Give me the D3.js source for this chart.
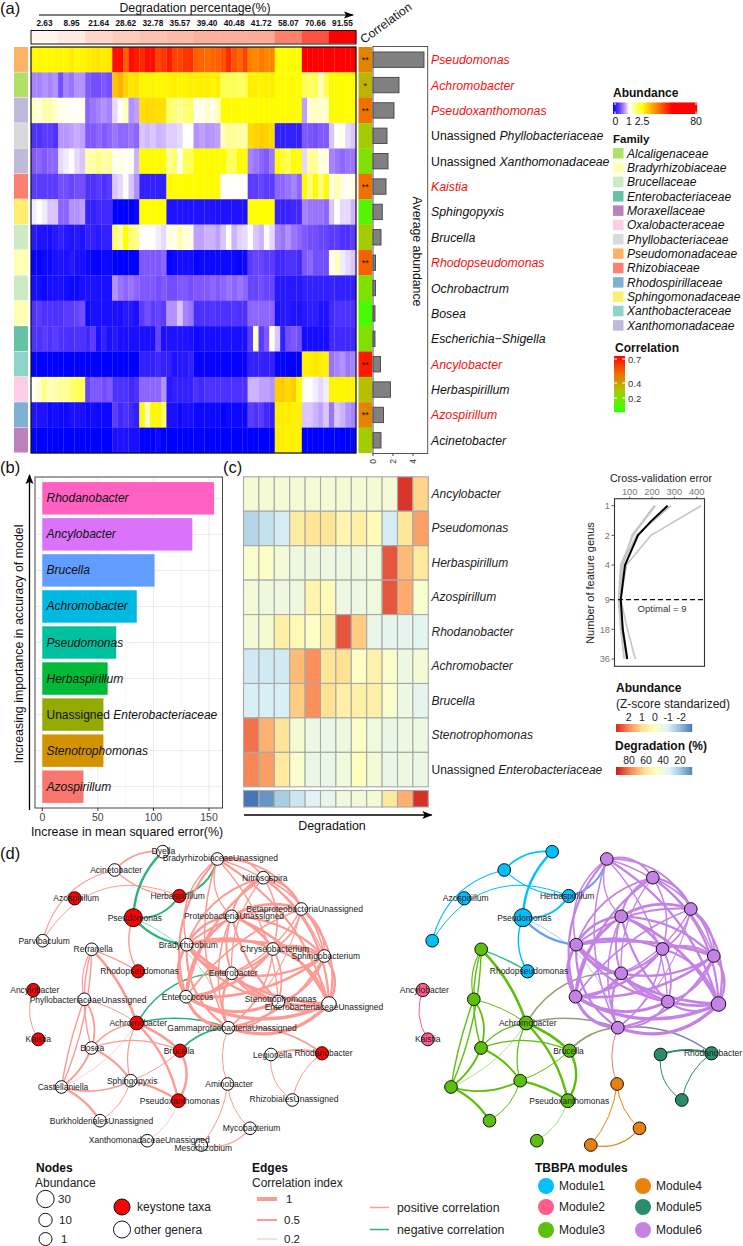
<!DOCTYPE html>
<html><head><meta charset="utf-8">
<script src="https://cdnjs.cloudflare.com/ajax/libs/d3/7.8.5/d3.min.js"></script>
<style>html,body{margin:0;padding:0;background:#fff}svg{display:block}text{font-family:"Liberation Sans",Arial,sans-serif}</style>
</head><body><svg id="c" width="743" height="1246"></svg>
<script>
/* ---------- panel (a) data ---------- */
const degradation = [2.63,8.95,21.64,28.62,32.78,35.57,39.40,40.48,41.72,58.07,70.66,91.55];
const genera = ["Pseudomonas","Achromobacter","Pseudoxanthomonas","Unassigned Phyllobacteriaceae","Unassigned Xanthomonadaceae","Kaistia","Sphingopyxis","Brucella","Rhodopseudomonas","Ochrobactrum","Bosea","Escherichia\u2212Shigella","Ancylobacter","Herbaspirillum","Azospirillum","Acinetobacter"];
const keystone = ["Pseudomonas","Achromobacter","Pseudoxanthomonas","Kaistia","Rhodopseudomonas","Ancylobacter","Azospirillum"];
const families = ["Alcaligenaceae","Bradyrhizobiaceae","Brucellaceae","Enterobacteriaceae","Moraxellaceae","Oxalobacteraceae","Phyllobacteriaceae","Pseudomonadaceae","Rhizobiaceae","Rhodospirillaceae","Sphingomonadaceae","Xanthobacteraceae","Xanthomonadaceae"];
const familyColors = ["#B2DF6A","#FFFFB3","#CCEBC5","#66C2A5","#BC80BD","#FCCDE5","#D9D9D9","#FDB366","#FB8072","#80B1D3","#FFED6F","#8DD3C7","#BEBADA"];
const generaFamily = ["Pseudomonadaceae","Alcaligenaceae","Xanthomonadaceae","Phyllobacteriaceae","Xanthomonadaceae","Rhizobiaceae","Sphingomonadaceae","Brucellaceae","Bradyrhizobiaceae","Brucellaceae","Bradyrhizobiaceae","Enterobacteriaceae","Xanthobacteraceae","Oxalobacteraceae","Rhodospirillaceae","Moraxellaceae"];
const correlation = [.45,.33,.5,.27,.2,.5,.1,.27,.53,.2,.07,.2,.68,.3,.45,.27];
const significance = ["**","*","**","","","**","","","**","","","","**","","**",""];
const avgAbundance = [5.1,2.6,2.1,1.4,1.5,1.3,.93,.8,.25,.25,.2,.2,.75,1.75,1.05,.8];
const abundance = [
[3.5,3.5,3,3.5,3.5, 3.5,3.5,5,3.5,4, 5,5.5,6,5,6, 38,38,26,38,36, 34,38,38,30,32, 36,30,30,32,33, 26,25,24,25,26, 28,34,28,25,30, 21,20,22,20,21, 3,3,3,3,3, 40,40,40,40,40, 40,40,40,40,40],
[.65,.65,.7,.65,.7, .45,.65,.6,.7,.7, .5,.45,.45,.5,.45, 11,14,9,6,7, 4,4,4,3.5,3.5, 4,5,4,4,5, 4.5,5,5,4,5, 2,2,2,1.9,2, 5,4.5,4,4.5,5, 3,3,3,2.7,3, 2,1.9,2,1.4,2, 3,3,3,3,3],
[1.4,1.2,1.5,1.5,1.3, 1.1,1.1,1.05,1.05,1.1, .55,.6,.65,.7,.65, .9,1.05,1.4,.7,.75, 7,8,8,7,7, 1.9,1.8,1.6,1.8,1.9, 1.1,1.1,1.3,1.1,1.4, 3,3,3,3,3, 3,3,3,3,3, 3,3,3,3,2.8, .75,1.3,1.35,1.3,1.3, 3,3,3,3,3],
[.3,.3,.35,.35,.3, .72,.72,.75,.78,.75, .5,.5,.55,.5,.55, .6,.55,.55,.6,.55, .85,.82,.85,.8,.82, .87,.87,.9,1,1, .7,.75,.7,.72,.75, 1.4,1.6,1.6,1.5,1.5, 8,9,10,9,8, .2,.2,.2,.2,.2, .5,.48,.45,.5,.5, .85,1.05,1.1,.9,.85],
[.5,.55,.5,.55,.55, .9,.95,1,.9,.85, 1.5,1.5,1.7,1.5,1.6, 1.1,1.15,1.05,1.1,.8, 3,3,3,3,3, 1.6,1.9,1.1,2,2, 3,3,3,3,3, 3,2,2,3,3, .65,.6,.55,.5,.6, 3,2.2,2,3,2.5, .9,1.6,1.6,1.2,1.2, .65,.6,.55,.6,.6],
[.35,.35,.35,.35,.35, .45,.45,.4,.45,.45, .3,.3,.35,.3,.35, .85,.9,1,.85,.7, .2,.2,.2,.2,.2, 3,3,3,3,3, 2.8,3,3,3,3, 1,1.02,1.02,1,1, .35,.35,.4,.35,.35, .55,.55,.6,.65,.55, 3,1.8,3,1.8,3, 1.2,1.5,1.2,1.05,1.2],
[.95,1.05,.95,.85,.85, .55,.55,.7,.7,.75, .2,.2,.25,.25,.25, 0,0,0,0,.05, 2.8,2.8,2.8,2.8,2.8, .12,.12,.12,.12,.12, .12,.12,.12,.12,.12, .12,.12,.12,.12,.12, 2.8,2.8,2.8,2.8,2.8, .22,.22,.22,.25,.25, .65,.6,.6,.6,.55, .85,1,.9,.9,.8],
[.15,.12,.12,.1,.15, .2,.15,.12,.15,.12, .2,.2,.15,.2,.2, 1.9,1.5,2.7,1.8,1.7, 1.02,1.05,1.02,.95,.9, 1.2,1.1,1.5,1.2,1.2, .75,.75,.8,.8,.75, .85,1.05,.8,.88,.9, 1,.85,.8,1.05,.9, .65,.6,.7,.6,.55, .5,.45,.45,.4,.4, .35,.35,.3,.3,.35],
[.02,.02,.05,.05,.1, .12,.1,.15,.1,.1, .05,.03,.02,.05,.05, 0,0,0,0,0, .5,.5,.5,.5,.55, .02,.05,.08,.08,.08, .02,.05,.05,.05,.05, .05,.05,.05,.03,.05, .35,.4,.4,.35,.35, .25,.25,.3,.3,.25, .5,.55,.45,.45,.45, 1.05,1.4,.95,.9,.85],
[.08,.08,.05,.08,.1, .1,.08,.05,.05,.1, .12,.12,.1,.1,.1, .7,.6,.55,.6,.55, .5,.5,.5,.45,.5, .45,.45,.5,.5,.45, .5,.5,.5,.55,.5, .55,.6,.55,.6,.55, .4,.4,.45,.4,.4, .15,.15,.15,.15,.15, .2,.2,.2,.2,.2, .22,.2,.2,.2,.2],
[.3,.35,.3,.3,.3, .3,.35,.35,.4,.45, .05,.1,.1,.1,.1, .1,.1,.15,.15,.1, .35,.45,.35,.4,.35, .7,.7,.85,.65,.6, .28,.3,.3,.32,.3, .3,.3,.32,.3,.3, .55,.55,.55,.55,.55, .1,.15,.15,.12,.12, .15,.18,.18,.12,.12, .25,.3,.3,.3,.3],
[.3,.3,.35,.3,.35, .3,.3,.28,.3,.3, .25,.35,.1,.2,.1, .15,.1,.1,.1,.1, .1,.1,.1,.4,.1, .12,.12,.12,.12,.1, .05,.08,.08,.08,.08, .1,.1,.1,.1,.1, .35,1.4,.35,.5,1.1, .85,.2,.45,.5,.45, .08,.08,.08,.08,.08, .25,.25,.25,.25,.25],
[0,0,0,0,0, 0,0,0,0,0, 0,0,0,0,0, 0,0,0,0,0, .2,.2,.2,.25,.2, .2,.12,.15,.15,.2, .02,.02,.02,.02,.02, .02,.02,.02,.02,.02, .2,.2,.22,.2,.2, .02,.02,0,0,0, 4.5,5,6,5,4.5, .6,.65,.7,.6,.65],
[1.05,1.3,1.7,1.4,1.5, 1.6,1.6,1.8,2,2, .4,.5,.5,.45,.5, .3,.3,.3,.25,.3, .55,.55,.55,.55,.7, .15,.2,.2,.2,.2, .3,.25,.3,.3,.3, .3,.3,.3,.3,.3, .8,.8,.75,.75,.7, 10,10,8,10,2.9, 1.1,1,.95,.9,.95, 4,4,4,4,3.5],
[.12,.12,.12,.05,.08, .05,.05,.1,.1,.1, .05,.08,.05,.05,.05, .35,.25,.3,.25,.2, 2.9,1.4,3.5,3.5,2, .1,.1,.05,.1,.1, .05,.05,.05,.05,.05, .02,.05,.05,.05,.05, .35,.3,.35,.25,.2, 5,5,5,4.5,4.5, .85,.85,.8,.75,.85, .6,.85,.8,.7,.65],
[0,0,0,0,0, 0,0,0,0,0, 0,0,0,0,0, .1,.12,.12,.1,.1, 0,0,0,.05,0, 0,0,0,0,0, 0,0,0,0,0, 0,0,0,0,0, 0,0,0,0,0, 5,5,4.5,4.5,4.5, 0,0,0,0,0, 0,0,0,0,.03]
];
/* ---------- panel (b) data ---------- */
const rfGenera = ["Rhodanobacter","Ancylobacter","Brucella","Achromobacter","Pseudomonas","Herbaspirillum","Unassigned Enterobacteriaceae","Stenotrophomonas","Azospirillum"];
const rfImportance = [154.6,135,101,85,66.5,58.8,55,55,37];
const rfColors = ["#FF61C3","#DB72FB","#619CFF","#00B9E3","#00C19F","#00BA38","#93AA00","#D39200","#F8766D"];
/* ---------- panel (c) data ---------- */
const zGenera = ["Ancylobacter","Pseudomonas","Herbaspirillum","Azospirillum","Rhodanobacter","Achromobacter","Brucella","Stenotrophomonas","Unassigned Enterobacteriaceae"];
const zScores = [
[-.35,-.35,-.35,-.35,-.35,-.35,-.35,-.35,-.35,-.35,2.85,1.1],
[-1.5,-1.3,-1.1,.6,.8,.8,.3,.5,.1,-1.1,.75,1.7],
[-.2,-.1,-.4,-.55,-.55,-.6,-.6,-.55,-.5,2.5,1.4,.7],
[-.45,-.55,-.55,-.55,.35,.1,-.6,-.6,-.5,2.5,1.6,-.2],
[-.4,-.3,.5,.2,-.1,.5,2.5,1.2,-.7,-.8,-.8,-.85],
[-1.15,-1.15,-1.15,1.4,1.9,.8,.9,-.1,.4,-.2,-.6,-.35],
[-1.05,-1.05,-1.05,1.2,1.9,.95,.5,.5,.5,-.2,-.6,-.8],
[2.2,1.5,.85,-.3,-.6,-.65,-.55,-.1,-.5,-.65,-.6,-.6],
[2.0,1.75,.7,-.2,-.65,-.65,-.5,.05,-.4,-.65,-.6,-.65]];
const cvFeatures = [1,2,4,9,18,36];
const cvFolds = [[420,195,85,60,90,125],[285,130,65,55,70,90],[215,115,60,50,60,75],[210,110,70,58,65,85]];
const cvMeanFeatures = [1,1.45,2,4,9,18,36];
const cvMean = [270,194,137,79,60,69,89];
/* ---------- panel (d) data ---------- */
const taxa = {Dy:"Dyella",BU:"BradyrhizobiaceaeUnassigned",Ac:"Acinetobacter",Ni:"Nitrosospira",Az:"Azospirillum",He:"Herbaspirillum",Be:"BetaproteobacteriaUnassigned",Ps:"Pseudomonas",Pr:"ProteobacteriaUnassigned",Pa:"Parvibaculum",Br:"Bradyrhizobium",Ch:"Chryseobacterium",Sp:"Sphingobacterium",Re:"Rerranella",Rh:"Rhodopseudomonas",En:"Enterobacter",Ec:"Enterococcus",St:"Stenotrophomonas",EU:"EnterobacteriaceaeUnassigned",An:"Ancylobacter",Ph:"PhyllobacteriaceaeUnassigned",Ach:"Achromobacter",Ga:"GammaproteobacteriaUnassigned",Ka:"Kaistia",Bo:"Bosea",Bru:"Brucella",Le:"Legionella",Rd:"Rhodanobacter",Am:"Aminobacter",Si:"Sphingopyxis",Ca:"Castellaniella",Px:"Pseudoxanthomonas",Rz:"RhizobialesUnassigned",Bu:"BurkholderialesUnassigned",Xa:"XanthomonadaceaeUnassigned",My:"Mycobacterium",Me:"Mesorhizobium"};
const keystoneTaxa = ["Az","He","Ps","Rh","An","Ach","Ka","Bru","Rd","Px"];
const modules = {1:["Dy","Ac","Az","He","Ps","Pa","Rh"],2:["An","Ka"],3:["Re","Ph","Ach","Bo","Bru","Ca","Si","Px","Bu","Xa"],4:["Am","My","Me"],5:["Le","Rd","Rz"],6:["BU","Ni","Be","Pr","Br","Ch","Sp","En","Ec","St","EU","Ga"]};
const moduleColors = {1:"#00BFFF",2:"#FF5C8A",3:"#5CBF0A",4:"#E8820C",5:"#2A8C6E",6:"#C481E6"};
const taxaAbundance = {Ps:30,Ach:9,Px:9,EU:13,Az:5,He:5,Rh:5,An:5,Bru:5,Rd:5,Ka:3};
/* sparse edges: from, to, strength, sign, bend */
const edges = [
["Ac","Dy",1.6,1,.25],["Pa","Ac",1.2,1,.3],["Pa","He",1,1,.42],["Ac","He",1.2,1,-.2],["Ps","Dy",2.4,-1,.2],["He","BU",2,-1,-.3],["Ps","He",2,-1,-.3],["Ps","Br",2.4,-1,-.2],["Ps","Ga",.8,-1,.25],["Ps","Rh",1.4,1,-.25],
["Ach","En",1.6,-1,.3],["Ach","Ga",1.6,-1,.15],["Bru","Ga",1.8,-1,.2],["Ga","Rd",1.6,1,.2],["Ga","Am",1,1,-.2],["Le","Rd",2,1,.15],["Le","Rz",1,1,-.3],["Rd","Rz",1,1,-.2],["Am","My",1,1,-.2],["Am","Me",1,1,.15],["Me","My",1.2,1,-.3],["An","Ka",1,1,-.25],
["Re","Rh",1.4,1,.05],["Re","Ach",2.6,1,.12],["Re","Ph",1.2,1,-.2],["Re","Bo",1.4,1,-.15],["Ph","Bo",1.8,1,.25],["Ph","Ach",1,1,.1],["Bo","Ach",1.3,1,.2],["Ach","Bru",2.6,1,.1],["Ach","Px",2.4,1,.15],["Ach","Si",1.2,1,-.2],["Ach","Ca",.7,1,.15],["Bo","Bru",1.2,1,.2],["Bo","Si",2,1,.15],["Si","Px",2.2,1,.1],["Bo","Ca",2,1,.15],["Re","Ca",1.4,1,.1],["Ph","Ca",1.4,1,-.05],["Ca","Si",1.8,1,-.2],["Ca","Bu",2.4,1,.15],["Si","Bu",1,1,.2],["Si","Bru",1,1,-.1],["Bru","Px",2.4,1,.3],["Px","Xa",.8,1,.2]];
/* module 6: dense positive block; from, to, strength (drawn bulging out of the block) */
const denseEdges = [["BU","Ec",2],["BU","Ga",1.4],["BU","EU",2],["BU","Ni",1.6],["BU","Br",1.4],["BU","Pr",1.2],["BU","Be",1.6],["BU","Sp",1.2],["BU","St",1.2],["Ni","Pr",1.8],["Ni","Be",2],["Ni","Br",1.6],["Ni","Ch",1.4],["Ni","Sp",1.6],["Ni","EU",2],["Ni","Ec",2],["Ni","En",1.2],["Be","Pr",2.4],["Be","Br",1.8],["Be","Ch",1.4],["Be","Sp",1.6],["Be","EU",1.8],["Be","Ec",1.6],["Be","En",1.4],["Be","Ga",1],["Pr","Br",2.4],["Pr","Ch",2.4],["Pr","Sp",2],["Pr","En",1.8],["Pr","Ec",2.4],["Pr","St",2],["Pr","EU",2.4],["Pr","Ga",1.4],["Br","Ch",2.4],["Br","Sp",2.4],["Br","En",2.4],["Br","Ec",2.8],["Br","St",2],["Br","EU",2.6],["Br","Ga",2],["Ch","Sp",1.8],["Ch","En",1.8],["Ch","Ec",2.4],["Ch","St",1.6],["Ch","EU",2],["Ch","Ga",1.4],["Sp","En",2],["Sp","Ec",2.4],["Sp","St",1.6],["Sp","EU",2.2],["Sp","Ga",2],["En","Ec",2.8],["En","St",2],["En","EU",2.4],["En","Ga",2],["Ec","St",2.8],["Ec","EU",3],["Ec","Ga",2.8],["St","EU",2],["St","Ga",1.8],["EU","Ga",3]];

/* ---------- layout tables (not data) ---------- */
const layout = {Dy:[162.7,851.7],BU:[217.3,859],Ac:[114.7,870],Ni:[263.3,877.7],Az:[74.7,898.3],He:[179.3,896],Be:[301.3,909],Ps:[133.3,917.7],Pr:[231.7,916.3],Pa:[42.7,940.7],Br:[186.7,944.7],Ch:[273,949],Sp:[324.3,956],Re:[91.7,949.3],Rh:[138,971.3],En:[231.7,973.3],Ec:[186,996.7],St:[278.3,1001.7],EU:[329,1004],An:[33.3,990],Ph:[84.3,999.3],Ach:[136.7,1023],Ga:[228.3,1027.7],Ka:[38.3,1039.3],Bo:[91.5,1048],Bru:[180,1050.7],Le:[271,1054.5],Rd:[322,1053.3],Am:[227.6,1084],Si:[130.7,1080.7],Ca:[61.5,1087],Px:[178.3,1100.7],Rz:[292.3,1100],Bu:[100,1120.7],Xa:[147.3,1140.7],My:[250,1128.3],Me:[201.3,1145]};
const labelShift = {Dy:[.7,-1],BU:[3,-.7],Be:[3.3,0],Pr:[2.3,0],Ph:[3.7,.7],Ga:[3.7,0],EU:[-5,3],St:[2.3,-3],He:[-1.7,0],Bru:[-1,0],Ka:[0,0],Bo:[.7,0],Rz:[1.7,-1.3],Me:[2,3],Xa:[2,-.5]};

const svg = d3.select("#c");
const T = (g,x,y,s,o={})=>{const t=g.append("text").attr("x",x).attr("y",y).text(s).attr("font-size",o.size||12).attr("fill",o.fill||"#111").attr("text-anchor",o.anchor||"start");if(o.bold)t.attr("font-weight","bold");if(o.italic)t.attr("font-style","italic");if(o.transform)t.attr("transform",o.transform);if(o.mid)t.attr("dominant-baseline","central");return t;};
const rich=(g,x,y,name,o={})=>{
  const t=g.append("text").attr("x",x).attr("y",y).attr("font-size",o.size||12).attr("fill",o.fill||"#111").attr("dominant-baseline","central");
  if(name.startsWith("Unassigned ")){t.append("tspan").text("Unassigned ");t.append("tspan").attr("font-style","italic").text(name.slice(11));}
  else t.append("tspan").attr("font-style","italic").text(name);return t;};
const arrow=(g,x1,y1,x2,y2,w=1.3,h=9,b=4.5)=>{g.append("line").attr("x1",x1).attr("y1",y1).attr("x2",x2).attr("y2",y2).attr("stroke","#000").attr("stroke-width",w);
  const a=Math.atan2(y2-y1,x2-x1);g.append("path").attr("transform",`translate(${x2},${y2}) rotate(${a*180/Math.PI})`).attr("d",`M1,0L${-h},${-b}L${-h+2},0L${-h},${b}Z`).attr("fill","#000");};

/* ========== (a) ========== */
const A=svg.append("g");
T(A,0,14,"(a)",{size:16.5});
T(A,195,11.5,"Degradation percentage(%)",{size:12.3,anchor:"middle"});
arrow(A,39,15,353,15,1.2,9,3.5);
const hx=d3.scaleBand().domain(d3.range(60)).range([31,356]);
const gx=d3.scaleBand().domain(degradation).range([31,356]);
const hy=d3.scaleBand().domain(genera).range([47,453]);
const abCol=d3.scaleLinear().domain([0,.25,.5,.75,1,2.5,40,80]).range(["#0000ff","#4028ff","#8058ff","#bfa0ff","#ffffff","#ffff00","#ff0000","#ff0000"]);
const topCol=d3.scaleLinear().domain([0,30,60,91.55]).range(["#fff8f4","#fdc8b8","#fc7c64","#ff0000"]);
degradation.forEach(d=>{T(A,gx(d)+gx.bandwidth()/2,25.5,d.toFixed(2),{size:8.3,bold:true,anchor:"middle"});
  A.append("rect").attr("x",gx(d)).attr("y",31).attr("width",gx.bandwidth()+.3).attr("height",12.5).attr("fill",topCol(d));});
A.append("rect").attr("x",31).attr("y",30.5).attr("width",325).attr("height",13.5).attr("fill","none").attr("stroke","#111").attr("stroke-width",1);
genera.forEach((g,i)=>{
  abundance[i].forEach((v,j)=>A.append("rect").attr("x",hx(j)).attr("y",hy(g)).attr("width",hx.bandwidth()+.2).attr("height",hy.bandwidth()+.2).attr("fill",abCol(v)));
  A.append("rect").attr("x",14).attr("y",hy(g)).attr("width",14).attr("height",hy.bandwidth()-.5).attr("fill",familyColors[families.indexOf(generaFamily[i])]);
});
A.append("rect").attr("x",31).attr("y",47).attr("width",325).attr("height",406).attr("fill","none").attr("stroke","#111").attr("stroke-width",1.2);
const corrCol=d3.scaleLinear().domain([.05,.2,.3,.5,.7]).range(["#40ff00","#80e000","#b4c000","#f07000","#ff1000"]);
const bx=d3.scaleLinear().domain([0,4]).range([373,413]);
A.append("rect").attr("x",373).attr("y",46.5).attr("width",54.7).attr("height",407).attr("fill","#fff").attr("stroke","#555").attr("stroke-width",1);
genera.forEach((g,i)=>{const y=hy(g),h=hy.bandwidth();
  A.append("rect").attr("x",358.5).attr("y",y).attr("width",13.5).attr("height",h+.2).attr("fill",corrCol(correlation[i]));
  if(significance[i])T(A,365.2,y+h/2+3.5,significance[i],{size:9,anchor:"middle"});
  A.append("rect").attr("x",bx(0)).attr("y",y+h/2-7.7).attr("width",bx(avgAbundance[i])-bx(0)).attr("height",15.4).attr("fill","#808080").attr("stroke","#444").attr("stroke-width",.9);
  const lab=A.append("text").attr("x",431).attr("y",y+h/2+.5).attr("font-size",12.3).attr("dominant-baseline","central").attr("fill",keystone.includes(g)?"#f01010":"#111");
  if(g.startsWith("Unassigned ")){lab.append("tspan").text("Unassigned ");lab.append("tspan").attr("font-style","italic").text(g.slice(11));}
  else lab.append("tspan").attr("font-style","italic").text(g);
});
[0,2,4].forEach(t=>{A.append("line").attr("x1",bx(t)).attr("x2",bx(t)).attr("y1",453).attr("y2",456).attr("stroke","#444");
  T(A,bx(t)+3,459,t,{size:8.5,anchor:"end",fill:"#333",transform:`rotate(-90 ${bx(t)+3} 459)`});});
T(A,0,0,"Correlation",{size:12.3,transform:"translate(364,44) rotate(-36)"});
T(A,0,0,"Average abundance",{size:12.3,anchor:"middle",transform:"translate(412.5,251.5) rotate(90)"});
// abundance legend
T(A,613,97,"Abundance",{size:12,bold:true});
const lx=d3.scaleLinear().domain([0,1,2.5,40,80]).range([613,629,642,672,697]);
d3.range(613,697).forEach(x=>A.append("rect").attr("x",x).attr("y",102.5).attr("width",1.2).attr("height",11.5).attr("fill",abCol(lx.invert(x+.5))));
[615,629,642,696].forEach(x=>{A.append("line").attr("x1",x).attr("x2",x).attr("y1",102.5).attr("y2",105).attr("stroke","#fff");A.append("line").attr("x1",x).attr("x2",x).attr("y1",111.5).attr("y2",114).attr("stroke","#fff");});
[["0",615.5],["1",629],["2.5",642],["80",696]].forEach(d=>T(A,d[1],124.5,d[0],{size:10.5,anchor:"middle"}));
T(A,613,143,"Family",{size:11.5,bold:true});
const fy=d3.scaleBand().domain(families).range([146,332.5]);
families.forEach((f,i)=>{A.append("rect").attr("x",613).attr("y",fy(f)+2).attr("width",10.5).attr("height",10.5).attr("fill",familyColors[i]);
  T(A,627,fy(f)+11.5,f,{size:12,italic:true});});
T(A,615,352,"Correlation",{size:12,bold:true});
d3.range(356,412).forEach(y=>{const v=.72-(y-356)/56*.72;A.append("rect").attr("x",614).attr("y",y).attr("width",11).attr("height",1.2).attr("fill",corrCol(Math.max(v,.02)));});
[[.7,359],[.4,383],[.2,398]].forEach(d=>{T(A,628,d[1]+3.5,d[0],{size:9.5,fill:"#333"});A.append("line").attr("x1",614).attr("x2",617).attr("y1",d[1]).attr("y2",d[1]).attr("stroke","#fff");A.append("line").attr("x1",622).attr("x2",625).attr("y1",d[1]).attr("y2",d[1]).attr("stroke","#fff");});

/* ========== (b) ========== */
const B=svg.append("g");
T(B,0,473,"(b)",{size:16.5});
const xb=d3.scaleLinear().domain([0,150]).range([42.3,209]);
const yb=d3.scaleBand().domain(rfGenera).range([480.3,804.7]).paddingInner(.1).paddingOuter(.05);
const L=35,R=222.5,TOP=477,BOT=808;
[25,75,125,175].forEach(t=>{if(xb(t)<R)B.append("line").attr("x1",xb(t)).attr("x2",xb(t)).attr("y1",TOP).attr("y2",BOT).attr("stroke","#f1f1f1").attr("stroke-width",.7);});
[0,50,100,150].forEach(t=>B.append("line").attr("x1",xb(t)).attr("x2",xb(t)).attr("y1",TOP).attr("y2",BOT).attr("stroke","#ebebeb").attr("stroke-width",1));
rfGenera.forEach((g,i)=>{const y=yb(g)+yb.bandwidth()/2;
  B.append("line").attr("x1",L).attr("x2",R).attr("y1",y).attr("y2",y).attr("stroke","#ebebeb");
  B.append("rect").attr("x",xb(0)).attr("y",yb(g)).attr("width",xb(rfImportance[i])-xb(0)).attr("height",yb.bandwidth()).attr("fill",rfColors[i]);
  rich(B,46.5,y,g,{size:12});
});
B.append("rect").attr("x",L).attr("y",TOP).attr("width",R-L).attr("height",BOT-TOP).attr("fill","none").attr("stroke","#444").attr("stroke-width",1);
[0,50,100,150].forEach(t=>{B.append("line").attr("x1",xb(t)).attr("x2",xb(t)).attr("y1",BOT).attr("y2",BOT+3).attr("stroke","#333");T(B,xb(t),821,t,{size:10.5,anchor:"middle",fill:"#444"});});
arrow(B,29.5,810,29.5,475,1.3,9,4);
T(B,0,0,"Increasing importance in accuracy of model",{size:12.4,anchor:"middle",transform:"translate(22.5,644) rotate(-90)"});
T(B,127,836,"Increase in mean squared error(%)",{size:12.4,anchor:"middle"});

/* ========== (c) ========== */
const C=svg.append("g");
T(C,223,473,"(c)",{size:16.5});
const stops=["#D73027","#FC8D59","#FEE090","#FFFFBF","#E0F3F8","#91BFDB","#4575B4"];
const zCol=d3.scaleLinear().domain([2.9,1.93,.97,0,-.97,-1.93,-2.9]).range(stops);
const dCol=d3.scaleLinear().domain([91.55,76.7,61.9,47.1,32.3,17.4,2.63]).range(stops);
const cx=d3.scaleBand().domain(d3.range(12)).range([243.5,428.3]);
const cy=d3.scaleBand().domain(zGenera).range([476.8,786.8]);
zGenera.forEach((g,i)=>{zScores[i].forEach((v,j)=>C.append("rect").attr("x",cx(j)).attr("y",cy(g)).attr("width",cx.bandwidth()).attr("height",cy.bandwidth()).attr("fill",zCol(v)).attr("stroke","#a8a8a8").attr("stroke-width",1.1));
  rich(C,431.5,cy(g)+cy.bandwidth()/2,g,{size:12,fill:"#222"});});
degradation.forEach((d,j)=>C.append("rect").attr("x",cx(j)).attr("y",790.5).attr("width",cx.bandwidth()).attr("height",16.5).attr("fill",dCol(d)).attr("stroke","#a8a8a8").attr("stroke-width",1.1));
arrow(C,244,815,431.5,815,1.3,9,4);
T(C,332,830,"Degradation",{size:12.4,anchor:"middle"});
// CV inset
const X0=614.5,X1=704.5,Y0=498.7,Y1=666.3;
const cvx=d3.scaleLinear().domain([100,400]).range([629.7,696.7]);
const cvy=d3.scaleLog().base(2).domain([1,36]).range([505.7,659]);
const ln=(xs,ys)=>d3.line().x((d,i)=>cvx(ys[i])).y(d=>cvy(d)).curve(d3.curveLinear)(xs);
cvFolds.forEach(f=>C.append("path").attr("d",ln(cvFeatures,f)).attr("fill","none").attr("stroke","#c6c6c6").attr("stroke-width",1.7));
C.append("path").attr("d",ln(cvMeanFeatures,cvMean)).attr("fill","none").attr("stroke","#000").attr("stroke-width",2);
C.append("line").attr("x1",610).attr("x2",X1).attr("y1",cvy(9)).attr("y2",cvy(9)).attr("stroke","#111").attr("stroke-width",1.3).attr("stroke-dasharray","5,3");
C.append("rect").attr("x",X0).attr("y",Y0).attr("width",X1-X0).attr("height",Y1-Y0).attr("fill","none").attr("stroke","#333").attr("stroke-width",1.1);
T(C,662,608.5,"Optimal = 9",{size:9.5,anchor:"middle",fill:"#333",mid:true});
T(C,661,482,"Cross-validation error",{size:10.7,anchor:"middle",fill:"#222"});
[100,200,300,400].forEach(t=>{T(C,cvx(t),494.5,t,{size:9.3,anchor:"middle",fill:"#777"});C.append("line").attr("x1",cvx(t)).attr("x2",cvx(t)).attr("y1",Y0-2).attr("y2",Y0).attr("stroke","#555");});
cvFeatures.forEach(t=>{T(C,610,cvy(t)+3.2,t,{size:9.3,anchor:"end",fill:"#777"});C.append("line").attr("x1",X0-3).attr("x2",X0).attr("y1",cvy(t)).attr("y2",cvy(t)).attr("stroke","#555");});
T(C,0,0,"Number of feature genus",{size:11,anchor:"middle",transform:"translate(594,583) rotate(-90)",fill:"#222"});
T(C,616,692,"Abundance",{size:12,bold:true});
T(C,616,707.5,"(Z-score standarized)",{size:12,fill:"#222"});
const zl=d3.scaleLinear().domain([2.9,-2.9]).range([617,693]);
[2,1,0,-1,-2].forEach(t=>T(C,zl(t),721,t,{size:10.5,anchor:"middle",fill:"#222"}));
d3.range(616,692).forEach(x=>C.append("rect").attr("x",x).attr("y",724).attr("width",1.2).attr("height",8).attr("fill",zCol(zl.invert(x+1))));
T(C,615,749.5,"Degradation (%)",{size:12,bold:true});
const dl=d3.scaleLinear().domain([80,20]).range([629,680]);
[80,60,40,20].forEach(t=>T(C,dl(t),764,t,{size:10.5,anchor:"middle",fill:"#222"}));
d3.range(616,692).forEach(x=>C.append("rect").attr("x",x).attr("y",767).attr("width",1.2).attr("height",8).attr("fill",dCol(dl.invert(x+.5))));

/* ========== (d) ========== */
const D=svg.append("g");
T(D,0,859,"(d)",{size:16.5});
const modOf={};Object.entries(modules).forEach(([m,a])=>a.forEach(k=>modOf[k]=m));
const dense=modules[6],cen=[d3.mean(dense,k=>layout[k][0]),d3.mean(dense,k=>layout[k][1])];
function arc(a,b,bend,ox){const A1=layout[a],B1=layout[b],dx=B1[0]-A1[0],dy=B1[1]-A1[1];
  const mx=(A1[0]+B1[0])/2+ox+bend*dy,my=(A1[1]+B1[1])/2-bend*dx;
  return `M${A1[0]+ox},${A1[1]}Q${mx},${my} ${B1[0]+ox},${B1[1]}`;}
function bulge(a,b){const A1=layout[a],B1=layout[b],dx=B1[0]-A1[0],dy=B1[1]-A1[1];
  const mx=(A1[0]+B1[0])/2-cen[0],my=(A1[1]+B1[1])/2-cen[1];
  const k=.12+.0028*Math.hypot(mx,my);
  return (mx*dy-my*dx)>=0?k:-k;}
const allEdges=edges.concat(denseEdges.map(e=>[e[0],e[1],e[2]*1.1,1,bulge(e[0],e[1])]));
const mixCol=(a,b)=>modOf[a]===modOf[b]?moduleColors[modOf[a]]:d3.interpolateRgb(moduleColors[modOf[a]],moduleColors[modOf[b]])(.5);
const rScale=d3.scaleLinear().domain([1,10,30]).range([6.3,7,9]);
const nR=k=>rScale(taxaAbundance[k]||1.5);
const gL=D.append("g"),gR=D.append("g");
const OFF=389.5;
allEdges.forEach(e=>{
  gL.append("path").attr("d",arc(e[0],e[1],e[4],0)).attr("fill","none").attr("stroke",e[3]>0?"#FC9A93":"#2FB37C").attr("stroke-opacity",e[2]<.9?.65:1).attr("stroke-width",e[2]);
});
allEdges.forEach(e=>{
  gR.append("path").attr("d",arc(e[0],e[1],e[4],OFF)).attr("fill","none").attr("stroke",mixCol(e[0],e[1])).attr("stroke-opacity",e[2]<.9?.7:1).attr("stroke-width",e[2]);
});
Object.keys(taxa).forEach(k=>{const p=layout[k];
  gL.append("circle").attr("cx",p[0]).attr("cy",p[1]).attr("r",nR(k)).attr("fill",keystoneTaxa.includes(k)?"#ff0000":"#fff").attr("stroke","#111").attr("stroke-width",1);
  gR.append("circle").attr("cx",p[0]+OFF).attr("cy",p[1]).attr("r",nR(k)).attr("fill",moduleColors[modOf[k]]).attr("stroke","#111").attr("stroke-width",1);
});
Object.keys(taxa).forEach(k=>{const p=layout[k],s=labelShift[k]||[1.5,0];
  T(gL,p[0]+s[0],p[1]+s[1],taxa[k],{size:8.5,anchor:"middle",fill:"#222",mid:true});
  if(keystoneTaxa.includes(k))T(gR,p[0]+OFF+s[0],p[1]+s[1],taxa[k],{size:8.5,anchor:"middle",fill:"#222",mid:true});
});
/* legend */
T(D,36,1172,"Nodes",{size:12,bold:true});
T(D,35,1186.5,"Abundance",{size:12,fill:"#222"});
[[30,1199,58],[10,1220,59],[1,1239,61]].forEach(d=>{D.append("circle").attr("cx",45.5).attr("cy",d[1]).attr("r",d[0]===1?6.5:rScale(d[0])-.3).attr("fill","#fff").attr("stroke","#111");T(D,d[2],d[1]+4,d[0],{size:11.5,fill:"#222"});});
D.append("circle").attr("cx",122).attr("cy",1207).attr("r",8).attr("fill","#ff0000").attr("stroke","#111");
T(D,137,1211,"keystone taxa",{size:12,fill:"#222"});
D.append("circle").attr("cx",122).attr("cy",1229.5).attr("r",8.5).attr("fill","#fff").attr("stroke","#111");
T(D,134,1233.5,"other genera",{size:12,fill:"#222"});
T(D,252,1172,"Edges",{size:12,bold:true});
T(D,252,1186.5,"Correlation index",{size:12,fill:"#222"});
[[1,4,1199,286],[.5,2,1220,284],[.2,1,1239,284]].forEach(d=>{D.append("line").attr("x1",257).attr("x2",277).attr("y1",d[2]).attr("y2",d[2]).attr("stroke","#FC9A93").attr("stroke-width",d[1]).attr("stroke-opacity",d[1]===1?.7:1);T(D,d[3],d[2]+4,d[0],{size:11.5,fill:"#222"});});
[["positive correlation","#FC9A93",1207.5],["negative correlation","#2FB37C",1229.5]].forEach(d=>{D.append("line").attr("x1",370).attr("x2",389).attr("y1",d[2]).attr("y2",d[2]).attr("stroke",d[1]).attr("stroke-width",1.5);T(D,397,d[2]+4,d[0],{size:12.3,fill:"#222"});});
T(D,535,1172,"TBBPA modules",{size:12,bold:true});
[[1,546,1186],[2,546,1207],[3,546,1230],[4,643,1186],[5,643,1207],[6,643,1230]].forEach(d=>{D.append("circle").attr("cx",d[1]).attr("cy",d[2]).attr("r",8).attr("fill",moduleColors[d[0]]);T(D,d[1]+13,d[2]+4,"Module"+d[0],{size:12,fill:"#222"});});
</script></body></html>
